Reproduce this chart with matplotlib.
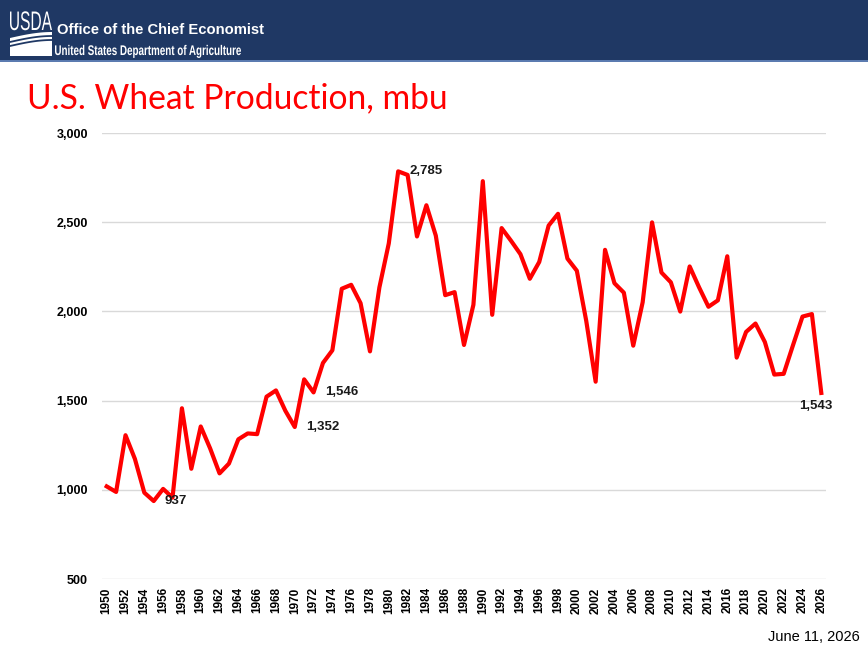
import matplotlib
matplotlib.use("Agg")
import matplotlib.pyplot as plt
from matplotlib.patches import Rectangle, Polygon, PathPatch
from matplotlib.textpath import TextPath
from matplotlib.font_manager import FontProperties
from matplotlib.transforms import Affine2D, IdentityTransform
import numpy as np

years = list(range(1950, 2027))
production = [1019, 988, 1306, 1173, 984, 937, 1005, 956, 1457, 1118,
              1355, 1232, 1092, 1147, 1283, 1316, 1312, 1522, 1557, 1443,
              1352, 1619, 1546, 1711, 1782, 2127, 2149, 2046, 1776, 2134,
              2381, 2785, 2765, 2420, 2595, 2425, 2091, 2108, 1812, 2037,
              2730, 1981, 2467, 2396, 2321, 2183, 2277, 2481, 2547, 2296,
              2228, 1947, 1606, 2345, 2158, 2105, 1808, 2051, 2499, 2218,
              2163, 1999, 2252, 2135, 2026, 2062, 2309, 1741, 1885, 1932,
              1828, 1646, 1650, 1812, 1971, 1985, 1543]
yticks = [500, 1000, 1500, 2000, 2500, 3000]
# labelled years: (year, position)
labelled = [(1955, "right"), (1970, "right"), (1972, "right"), (1981, "right"), (2026, "below")]

W, H = 868, 651
fig = plt.figure(figsize=(W / 100, H / 100), dpi=100)
fig.patch.set_facecolor("white")


def squeezed_text(s, x0, y_base, width, size, weight="normal", height=None):
    """draw white text as a path, squeezed to a given pixel width"""
    prop = FontProperties(family="Liberation Sans", weight=weight)
    tp = TextPath((0, 0), s, size=size, prop=prop)
    ext = tp.get_extents()
    sx = width / ext.width
    sy = 1.0 if height is None else height / ext.height
    tr = Affine2D().translate(-ext.x0, 0).scale(sx, sy).translate(x0, H - y_base)
    fig.patches.append(PathPatch(tr.transform_path(tp), transform=IdentityTransform(),
                                 facecolor="white", edgecolor="none", zorder=3))


# header band
fig.patches.append(Rectangle((0, 1 - 60 / H), 1, 60 / H, transform=fig.transFigure,
                             facecolor="#1F3864", edgecolor="none", zorder=0))
fig.patches.append(Rectangle((0, 1 - 62 / H), 1, 2 / H, transform=fig.transFigure,
                             facecolor="#5B7BB0", edgecolor="none", zorder=0))

# simple USDA logo
squeezed_text("USDA", 10, 30, 42, 20, height=19)
xs = np.linspace(10, 52, 30)
top = 38 - 6 * np.sin((xs - 10) / 42 * np.pi / 2)
pts = [(x / W, 1 - y / H) for x, y in zip(xs, top)] + [(52 / W, 1 - 56 / H), (10 / W, 1 - 56 / H)]
fig.patches.append(Polygon(pts, closed=True, transform=fig.transFigure,
                           facecolor="white", edgecolor="none", zorder=1))
for off in (4, 8):
    curve = 38 + off - 6 * np.sin((xs - 10) / 42 * np.pi / 2)
    line = plt.Line2D(xs / W, 1 - curve / H, transform=fig.transFigure,
                      color="#1F3864", lw=1.3, zorder=2)
    fig.lines.append(line)

fig.text(57 / W, 1 - 30 / H, "Office of the Chief Economist", color="white",
         fontsize=10.6, fontweight="bold", family="Liberation Sans", va="center")
squeezed_text("United States Department of Agriculture", 55, 55, 186, 14, weight="bold")

# title
fig.text(27 / W, 1 - 98 / H, "U.S. Wheat Production, mbu", color="#FF0000",
         fontsize=24.2, family="Lato", va="center", ha="left")

# date
fig.text(860 / W, 1 - 637 / H, "June 11, 2026", color="black", fontsize=10.5,
         family="Liberation Sans", ha="right", va="center")

ax = fig.add_axes([102 / W, 72 / H, 724 / W, 446 / H])
ax.plot(years, production, color="#FF0000", lw=3, solid_joinstyle="round", zorder=3)
ax.set_xlim(1949.5, 2026.5)
ax.set_ylim(500, 3000)
ax.set_yticks(yticks)
ax.set_yticklabels([f"{v:,}" for v in yticks])
ax.set_xticks(years[::2])
ax.set_xticklabels([str(y) for y in years[::2]], rotation=90)
ax.grid(axis="y", color="#D9D9D9", lw=1)
ax.set_axisbelow(True)
for s in ax.spines.values():
    s.set_visible(False)
ax.tick_params(length=0)
ax.tick_params(axis="y", pad=10)
ax.tick_params(axis="x", pad=6)
for lab in ax.get_yticklabels():
    lab.set_fontweight("bold")
    lab.set_fontsize(9)
    lab.set_family("Liberation Sans")
for lab in ax.get_xticklabels():
    lab.set_fontweight("bold")
    lab.set_fontsize(8.5)
    lab.set_family("Liberation Sans")

for yr, pos in labelled:
    v = production[years.index(yr)]
    if pos == "right":
        ax.annotate(f"{v:,}", (yr, v), xytext=(8, 0), textcoords="offset points",
                    ha="left", va="center", fontsize=9.5, fontweight="bold",
                    family="Liberation Sans", color="#1A1A1A")
    else:
        ax.annotate(f"{v:,}", (yr, v), xytext=(-4, -5), textcoords="offset points",
                    ha="center", va="top", fontsize=9.5, fontweight="bold",
                    family="Liberation Sans", color="#1A1A1A")

fig.savefig("out.png", dpi=100)
